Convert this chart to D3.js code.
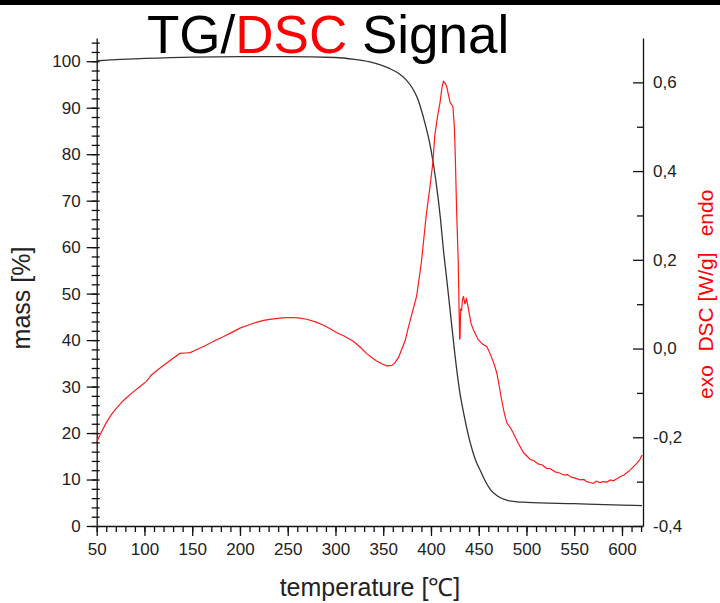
<!DOCTYPE html>
<html lang="en">
<head>
<meta charset="UTF-8">
<title>TG/DSC Signal</title>
<script src="https://d3js.org/d3.v7.min.js"></script>
<style>
  html, body { margin: 0; padding: 0; background: white; }
  body { font-family: "Liberation Sans", Arial, sans-serif; }
  .axis text { font-family: "Liberation Sans", Arial, sans-serif; font-size: 17px; fill: #222; }
  .axis path, .axis line { stroke: #111; stroke-width: 1.3; }
  .minor path { display: none; }
</style>
</head>
<body>
<div id="chart"></div>
<script>

// --------------------------------------
// Data
// --------------------------------------

// TG curve: temperature [°C] -> mass [%]
const tgTemp = [50, 75, 100, 150, 200, 250, 300, 320, 335, 347, 357, 366, 374, 380, 386, 392, 400, 405,
  410, 413, 416, 420, 425, 430, 435, 441, 447, 452, 456, 462, 470, 480, 490, 500, 550, 600, 621];
const tgMass = [100.1, 100.4, 100.6, 100.9, 101.0, 101.0, 100.8, 100.4, 99.9, 99.2, 98.4, 97.4, 96.0, 94.4, 92.0, 88.0, 81.0, 74.5,
  66.0, 59.5, 54.0, 46.5, 37.0, 29.0, 23.5, 18.0, 14.0, 11.8, 10.0, 7.9, 6.4, 5.5, 5.2, 5.1, 4.8, 4.5, 4.4];

// DSC curve: temperature [°C] -> W/g
const dscTemp = [50, 55, 60, 65, 70, 78, 87, 95, 102, 105, 107, 115, 123, 130, 137, 143, 148, 156, 165, 174, 183,
  192, 200, 209, 217, 226, 235, 244, 252, 261, 270, 279, 287, 294, 301, 310, 319, 326, 333, 338, 343, 349, 354,
  359, 362, 366, 369, 373, 376, 380, 385, 390, 395, 399, 402, 404, 407, 409.5, 411.5, 413, 415, 416.5, 418, 420,
  423, 424.5, 425.5, 427, 428.5, 430, 430.5, 431, 432, 433, 434, 435.5, 437, 438, 440, 442, 444.5, 449.5, 454,
  458.5, 462, 466, 469, 471.5, 474, 477, 479.5, 483, 486, 491.5, 497, 504, 508, 512, 516, 521, 525, 530, 534,
  539, 543, 547, 551, 556, 560, 563, 566, 570, 573, 577, 580, 584, 588, 591, 595, 598, 602, 605, 609, 612, 615,
  617, 619, 621];
const dscValue = [-0.21, -0.188, -0.167, -0.150, -0.136, -0.117, -0.100, -0.086, -0.074, -0.066, -0.060, -0.046,
  -0.033, -0.022, -0.011, -0.010, -0.009, -0.001, 0.008, 0.018, 0.027, 0.037, 0.046, 0.053, 0.059, 0.064, 0.067,
  0.069, 0.070, 0.069, 0.066, 0.060, 0.053, 0.045, 0.036, 0.027, 0.016, 0.003, -0.012, -0.020, -0.028, -0.035,
  -0.039, -0.038, -0.033, -0.020, -0.004, 0.018, 0.045, 0.078, 0.118, 0.195, 0.300, 0.365, 0.420, 0.480, 0.525,
  0.555, 0.588, 0.602, 0.598, 0.590, 0.575, 0.555, 0.545, 0.500, 0.430, 0.300, 0.200, 0.020, 0.025, 0.090,
  0.085, 0.110, 0.118, 0.100, 0.112, 0.104, 0.080, 0.056, 0.042, 0.020, 0.010, 0.004, -0.012, -0.034, -0.056,
  -0.085, -0.116, -0.148, -0.168, -0.178, -0.190, -0.214, -0.235, -0.250, -0.253, -0.260, -0.262, -0.270,
  -0.271, -0.278, -0.280, -0.285, -0.284, -0.290, -0.292, -0.296, -0.295, -0.300, -0.302, -0.304, -0.299,
  -0.302, -0.300, -0.301, -0.296, -0.298, -0.293, -0.289, -0.285, -0.280, -0.273, -0.266, -0.260, -0.255,
  -0.249, -0.240];

// Tick values / labels
const xTicks = [50, 100, 150, 200, 250, 300, 350, 400, 450, 500, 550, 600];
const massTicks = [0, 10, 20, 30, 40, 50, 60, 70, 80, 90, 100];
const dscTicks = [-0.4, -0.2, 0.0, 0.2, 0.4, 0.6];
const dscTickLabels = ["-0,4", "-0,2", "0,0", "0,2", "0,4", "0,6"];

// --------------------------------------
// Size and scales
// --------------------------------------

let totalWidth = 720;
let totalHeight = 603;
let plot = {left: 96.7, right: 643, top: 38, bottom: 526};

let svg = d3.select("#chart")
  .append("svg")
  .attr("width", totalWidth)
  .attr("height", totalHeight)
  .style("display", "block");

svg.append("rect").attr("width", totalWidth).attr("height", totalHeight).attr("fill", "white");

let x = d3.scaleLinear().domain([50, 622]).range([plot.left, plot.right]);
let yMass = d3.scaleLinear().domain([0, 105]).range([plot.bottom, plot.top]);
let yDsc = d3.scaleLinear().domain([-0.4, 0.7]).range([plot.bottom, plot.top]);

// black bar on top
svg.append("rect").attr("x", 0).attr("y", 0).attr("width", totalWidth).attr("height", 5).attr("fill", "black");

// --------------------------------------
// Title
// --------------------------------------

let title = svg.append("text")
  .attr("x", 147)
  .attr("y", 53)
  .style("font-family", "'Liberation Sans', Arial, sans-serif")
  .style("font-size", "53px");
title.append("tspan").attr("fill", "black").text("TG/");
title.append("tspan").attr("fill", "#ff0000").text("DSC");
title.append("tspan").attr("fill", "black").text(" Signal");

// --------------------------------------
// Axes
// --------------------------------------

// left: mass
svg.append("g")
  .attr("class", "axis minor")
  .attr("transform", `translate(${plot.left},0)`)
  .call(d3.axisLeft(yMass).tickValues(d3.range(0, 105, 2)).tickSize(5).tickFormat(""))
  .selectAll(".tick line").attr("x1", 3);

svg.append("g")
  .attr("class", "axis")
  .attr("transform", `translate(${plot.left},0)`)
  .call(d3.axisLeft(yMass).tickValues(massTicks).tickSize(10).tickSizeOuter(0).tickPadding(6));

// bottom: temperature
svg.append("g")
  .attr("class", "axis minor")
  .attr("transform", `translate(0,${plot.bottom})`)
  .call(d3.axisBottom(x).tickValues(d3.range(50, 621, 10)).tickSize(6).tickFormat(""));

svg.append("g")
  .attr("class", "axis")
  .attr("transform", `translate(0,${plot.bottom})`)
  .call(d3.axisBottom(x).tickValues(xTicks).tickSize(10).tickSizeOuter(0).tickPadding(7));

// right: DSC (ticks point inward)
svg.append("g")
  .attr("class", "axis minor")
  .attr("transform", `translate(${plot.right},0)`)
  .call(d3.axisRight(yDsc).tickValues([-0.3, -0.1, 0.1, 0.3, 0.5]).tickSizeInner(-6).tickSizeOuter(0).tickFormat(""));

svg.append("g")
  .attr("class", "axis")
  .attr("transform", `translate(${plot.right},0)`)
  .call(d3.axisRight(yDsc).tickValues(dscTicks).tickSizeInner(-10).tickSizeOuter(0).tickPadding(10)
    .tickFormat((d, i) => dscTickLabels[i]));

// --------------------------------------
// Axis titles
// --------------------------------------

svg.append("text")
  .attr("transform", "translate(30,298) rotate(-90)")
  .attr("text-anchor", "middle")
  .style("font-size", "25px")
  .attr("fill", "#222")
  .text("mass [%]");

svg.append("text")
  .attr("x", 370)
  .attr("y", 596)
  .attr("text-anchor", "middle")
  .style("font-size", "25px")
  .attr("fill", "#222")
  .text("temperature [\u2103]");

let dscTitle = svg.append("g").attr("transform", "translate(713,0)");
[["exo", 382], ["DSC [W/g]", 302], ["endo", 213]].forEach(([t, yc]) => {
  dscTitle.append("text")
    .attr("transform", `translate(0,${yc}) rotate(-90)`)
    .attr("text-anchor", "middle")
    .style("font-size", "21px")
    .attr("fill", "#ff0000")
    .text(t);
});

// --------------------------------------
// Curves
// --------------------------------------

let tgData = tgTemp.map((t, i) => ({t: t, v: tgMass[i]}));
let dscData = dscTemp.map((t, i) => ({t: t, v: dscValue[i]}));

svg.append("path")
  .datum(tgData)
  .attr("fill", "none")
  .attr("stroke", "#333")
  .attr("stroke-width", 1.3)
  .attr("d", d3.line().x(d => x(d.t)).y(d => yMass(d.v)).curve(d3.curveMonotoneX));

svg.append("path")
  .datum(dscData)
  .attr("fill", "none")
  .attr("stroke", "#ff1a1a")
  .attr("stroke-width", 1.2)
  .attr("d", d3.line().x(d => x(d.t)).y(d => yDsc(d.v)));

</script>
</body>
</html>
